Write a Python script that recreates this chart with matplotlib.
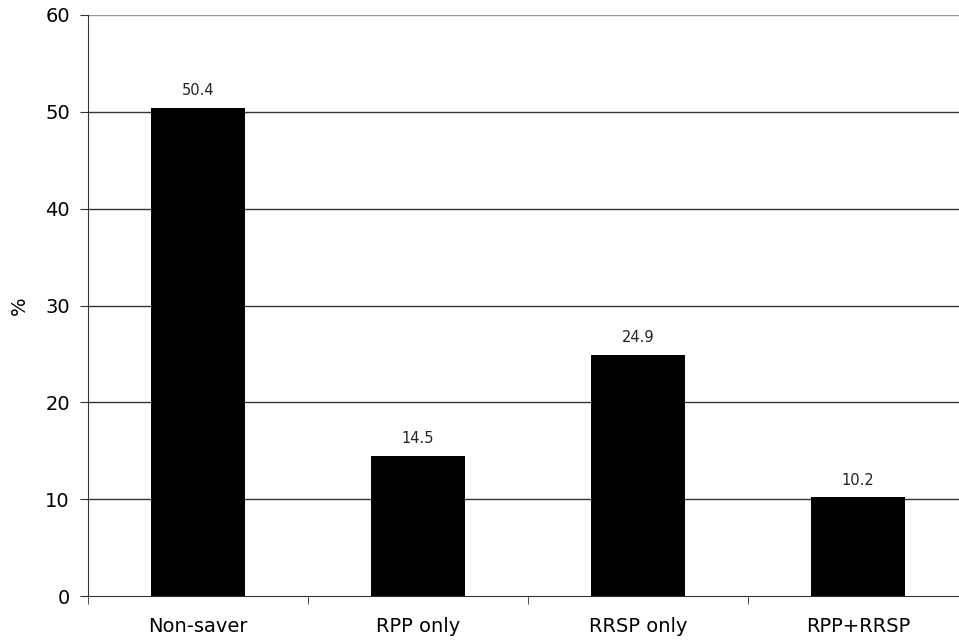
import matplotlib.pyplot as plt
import numpy as np

categories = ["Non-saver", "RPP only", "RRSP only", "RPP+RRSP"]
values = [50.4, 14.5, 24.9, 10.2]
yticks = [0, 10, 20, 30, 40, 50, 60]

fig = plt.figure(figsize=(9.59, 6.4), dpi=100)
ax = fig.add_axes([88/959, 44/640, 880/959, 581/640])

x = np.arange(len(categories))
ax.bar(x, values, width=0.43, color="black", zorder=3)
for xi, v in zip(x, values):
    ax.text(xi, v + 1.0, f"{v:.1f}", ha="center", va="bottom", fontsize=10.5, color="#222222")

ax.set_xlim(-0.5, len(categories) - 0.5)
ax.set_ylim(0, 60)
ax.set_yticks(yticks)
for t in yticks[1:]:
    ax.axhline(t, color="#333333" if t < 60 else "#999999", lw=1, zorder=1)

ax.set_xticks(x)
ax.set_xticklabels(categories, fontsize=14)
ax.tick_params(axis="x", length=0, pad=15)
ax.set_xticks(np.arange(len(categories)) - 0.5, minor=True)
ax.tick_params(axis="x", which="minor", length=6, direction="out", color="#333333")
ax.tick_params(axis="y", labelsize=14, length=6, pad=7, color="#333333")
ax.set_ylabel("%", fontsize=14, labelpad=12)

for s in ["top", "right"]:
    ax.spines[s].set_visible(False)
ax.spines["left"].set_color("#333333")
ax.spines["bottom"].set_color("#333333")

fig.savefig("out.png", dpi=100)
